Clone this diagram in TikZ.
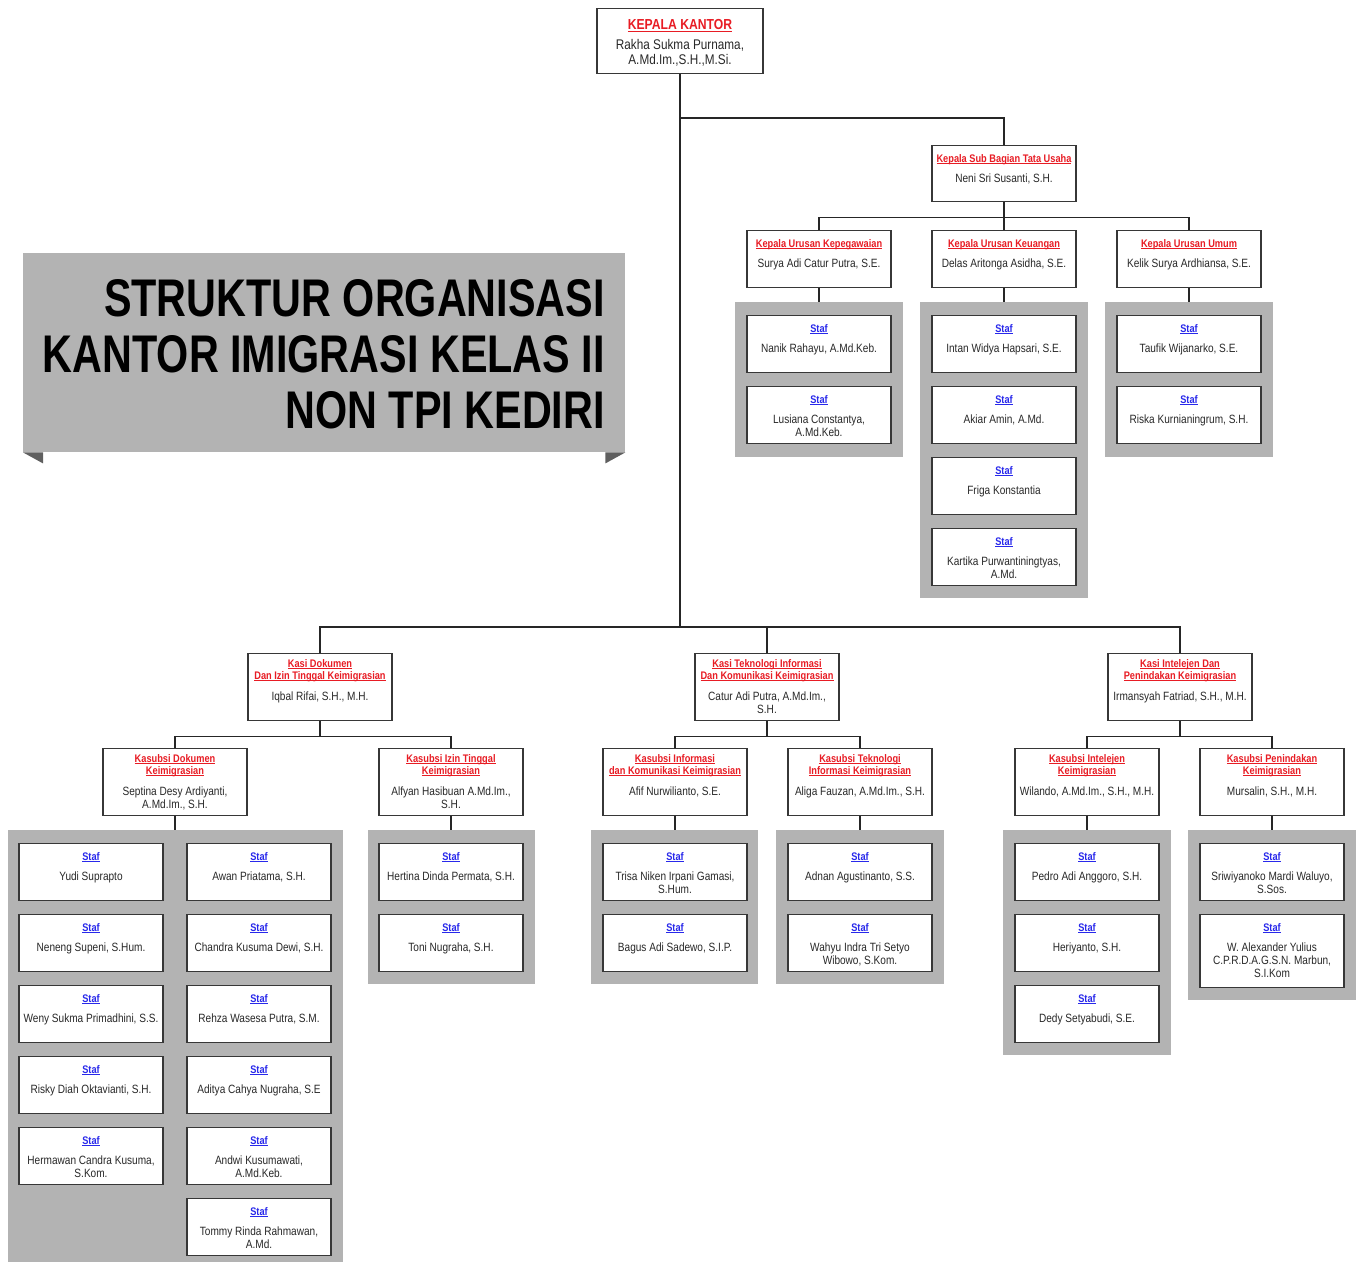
\documentclass[tikz,border=0pt]{standalone}
\usepackage{fontspec}
\setmainfont{Liberation Sans}[FakeStretch=0.84]
\newfontfamily\bannerfont{Liberation Sans}[FakeStretch=0.78]
\definecolor{panelgrey}{RGB}{179,179,179}
\definecolor{folddark}{RGB}{95,95,95}
\definecolor{boxline}{RGB}{55,55,55}
\definecolor{titlered}{RGB}{232,28,36}
\definecolor{stafblue}{RGB}{40,40,235}
\definecolor{namegrey}{RGB}{40,40,40}
% underline close to the baseline
\newcommand\myul[1]{\leavevmode\setbox0\hbox{#1}\rlap{\rule[-1.4pt]{\wd0}{0.6pt}}\box0}
\newcommand\ttl[1]{{\fontsize{11}{13}\selectfont\bfseries\color{titlered}\myul{#1}}}
\newcommand\stf{{\fontsize{11}{13}\selectfont\bfseries\color{stafblue}\myul{Staf}}}
% box with text anchored from the top
\newcommand\offbox[6]{%
  \node[obox, minimum height=#4, anchor=north] (#1) at (#2,#3) {};
  \node[otext, anchor=north] at (#2,#3+#5) {#6};}
\newcommand\staffbox[5]{%
  \node[obox, minimum height=#4, anchor=north] (#1) at (#2,#3) {};
  \node[otext, anchor=north] at (#2,#3+9) {\stf\\[7pt]#5};}
\begin{document}
\begin{tikzpicture}[x=1pt,y=-1pt,
  panel/.style={fill=panelgrey, draw=none, inner sep=0, anchor=north},
  obox/.style={draw=boxline, line width=1.4pt, fill=white, inner sep=0, minimum width=144pt},
  otext/.style={align=center, inner sep=0, font=\fontsize{12}{13}\selectfont, text=namegrey},
  conn/.style={draw=black!85, line width=1.2pt},
  bannertext/.style={inner sep=0, font=\bannerfont\bfseries\fontsize{53}{56}\selectfont, text=black}]
\useasboundingbox (0,0) rectangle (1360,1262);

% ---------- banner ----------
\node[fill=panelgrey, minimum width=602pt, minimum height=199pt, anchor=north west, inner sep=0] (banner) at (23,253) {};
\fill[folddark] (banner.south west) -- ++(20,0) -- ++(0,11) -- cycle;
\fill[folddark] (banner.south east) -- ++(-20,0) -- ++(0,11) -- cycle;
\node[bannertext, anchor=base east] (b1) at (605,316) {STRUKTUR ORGANISASI};
\node[bannertext, anchor=base east] (b2) at (605,372) {KANTOR IMIGRASI KELAS II};
\node[bannertext, anchor=base east] (b3) at (605,428) {NON TPI KEDIRI};

% ---------- panels ----------
\node[panel, minimum width=168pt, minimum height=155pt] (pA) at (819,302) {};
\node[panel, minimum width=168pt, minimum height=296pt] (pB) at (1004,302) {};
\node[panel, minimum width=168pt, minimum height=155pt] (pC) at (1189,302) {};
\node[panel, minimum width=335pt, minimum height=432pt] (pD) at (175.5,830) {};
\node[panel, minimum width=167pt, minimum height=154pt] (pE) at (451.5,830) {};
\node[panel, minimum width=167pt, minimum height=154pt] (pF) at (674.5,830) {};
\node[panel, minimum width=168pt, minimum height=154pt] (pG) at (860,830) {};
\node[panel, minimum width=168pt, minimum height=225pt] (pH) at (1087,830) {};
\node[panel, minimum width=168pt, minimum height=170pt] (pI) at (1272,830) {};

% ---------- top ----------
\node[obox, minimum width=166pt, minimum height=65pt, anchor=north] (kepala) at (680,8) {};
\node[otext, anchor=north, font=\fontsize{14}{15}\selectfont] at (680,8+11.5)
  {{\fontsize{14.5}{15}\selectfont\bfseries\color{titlered}\myul{KEPALA KANTOR}}\\[5pt]Rakha Sukma Purnama,\\A.Md.Im.,S.H.,M.Si.};

\offbox{tu}{1004}{145}{56pt}{9}{\ttl{Kepala Sub Bagian Tata Usaha}\\[7pt]Neni Sri Susanti, S.H.}
\offbox{ur1}{819}{230}{57pt}{9}{\ttl{Kepala Urusan Kepegawaian}\\[7pt]Surya Adi Catur Putra, S.E.}
\offbox{ur2}{1004}{230}{57pt}{9}{\ttl{Kepala Urusan Keuangan}\\[7pt]Delas Aritonga Asidha, S.E.}
\offbox{ur3}{1189}{230}{57pt}{9}{\ttl{Kepala Urusan Umum}\\[7pt]Kelik Surya Ardhiansa, S.E.}

\staffbox{sa1}{819}{315}{57pt}{Nanik Rahayu, A.Md.Keb.}
\staffbox{sa2}{819}{386}{57pt}{Lusiana Constantya,\\A.Md.Keb.}
\staffbox{sb1}{1004}{315}{57pt}{Intan Widya Hapsari, S.E.}
\staffbox{sb2}{1004}{386}{57pt}{Akiar Amin, A.Md.}
\staffbox{sb3}{1004}{457}{57pt}{Friga Konstantia}
\staffbox{sb4}{1004}{528}{57pt}{Kartika Purwantiningtyas,\\A.Md.}
\staffbox{sc1}{1189}{315}{57pt}{Taufik Wijanarko, S.E.}
\staffbox{sc2}{1189}{386}{57pt}{Riska Kurnianingrum, S.H.}

% ---------- kasi ----------
\offbox{kasi1}{320}{653}{67pt}{6}{\ttl{Kasi Dokumen}\\[-1pt]\ttl{Dan Izin Tinggal Keimigrasian}\\[8pt]Iqbal Rifai, S.H., M.H.}
\offbox{kasi2}{767}{653}{67pt}{6}{\ttl{Kasi Teknologi Informasi}\\[-1pt]\ttl{Dan Komunikasi Keimigrasian}\\[8pt]Catur Adi Putra, A.Md.Im.,\\S.H.}
\offbox{kasi3}{1180}{653}{67pt}{6}{\ttl{Kasi Intelejen Dan}\\[-1pt]\ttl{Penindakan Keimigrasian}\\[8pt]Irmansyah Fatriad, S.H., M.H.}

% ---------- kasubsi ----------
\offbox{ks1}{175}{748}{67pt}{6}{\ttl{Kasubsi Dokumen}\\[-1pt]\ttl{Keimigrasian}\\[8pt]Septina Desy Ardiyanti,\\A.Md.Im., S.H.}
\offbox{ks2}{451}{748}{67pt}{6}{\ttl{Kasubsi Izin Tinggal}\\[-1pt]\ttl{Keimigrasian}\\[8pt]Alfyan Hasibuan A.Md.Im.,\\S.H.}
\offbox{ks3}{675}{748}{67pt}{6}{\ttl{Kasubsi Informasi}\\[-1pt]\ttl{dan Komunikasi Keimigrasian}\\[8pt]Afif Nurwilianto, S.E.}
\offbox{ks4}{860}{748}{67pt}{6}{\ttl{Kasubsi Teknologi}\\[-1pt]\ttl{Informasi Keimigrasian}\\[8pt]Aliga Fauzan, A.Md.Im., S.H.}
\offbox{ks5}{1087}{748}{67pt}{6}{\ttl{Kasubsi Intelejen}\\[-1pt]\ttl{Keimigrasian}\\[8pt]Wilando, A.Md.Im., S.H., M.H.}
\offbox{ks6}{1272}{748}{67pt}{6}{\ttl{Kasubsi Penindakan}\\[-1pt]\ttl{Keimigrasian}\\[8pt]Mursalin, S.H., M.H.}

% ---------- staff bottom ----------
\staffbox{d11}{91}{843}{57pt}{Yudi Suprapto}
\staffbox{d12}{91}{914}{57pt}{Neneng Supeni, S.Hum.}
\staffbox{d13}{91}{985}{57pt}{Weny Sukma Primadhini, S.S.}
\staffbox{d14}{91}{1056}{57pt}{Risky Diah Oktavianti, S.H.}
\staffbox{d15}{91}{1127}{57pt}{Hermawan Candra Kusuma,\\S.Kom.}
\staffbox{d21}{259}{843}{57pt}{Awan Priatama, S.H.}
\staffbox{d22}{259}{914}{57pt}{Chandra Kusuma Dewi, S.H.}
\staffbox{d23}{259}{985}{57pt}{Rehza Wasesa Putra, S.M.}
\staffbox{d24}{259}{1056}{57pt}{Aditya Cahya Nugraha, S.E}
\staffbox{d25}{259}{1127}{57pt}{Andwi Kusumawati,\\A.Md.Keb.}
\staffbox{d26}{259}{1198}{57pt}{Tommy Rinda Rahmawan,\\A.Md.}
\staffbox{e1}{451}{843}{57pt}{Hertina Dinda Permata, S.H.}
\staffbox{e2}{451}{914}{57pt}{Toni Nugraha, S.H.}
\staffbox{f1}{675}{843}{57pt}{Trisa Niken Irpani Gamasi,\\S.Hum.}
\staffbox{f2}{675}{914}{57pt}{Bagus Adi Sadewo, S.I.P.}
\staffbox{g1}{860}{843}{57pt}{Adnan Agustinanto, S.S.}
\staffbox{g2}{860}{914}{57pt}{Wahyu Indra Tri Setyo\\Wibowo, S.Kom.}
\staffbox{h1}{1087}{843}{57pt}{Pedro Adi Anggoro, S.H.}
\staffbox{h2}{1087}{914}{57pt}{Heriyanto, S.H.}
\staffbox{h3}{1087}{985}{57pt}{Dedy Setyabudi, S.E.}
\staffbox{i1}{1272}{843}{57pt}{Sriwiyanoko Mardi Waluyo,\\S.Sos.}
\staffbox{i2}{1272}{914}{73pt}{W. Alexander Yulius\\C.P.R.D.A.G.S.N. Marbun,\\S.I.Kom}

% ---------- connectors ----------
\coordinate (j1) at (680,118);
\coordinate (hub) at (680,627);
\draw[conn] (kepala.south) -- (hub);
\draw[conn] (j1) -| (tu.north);
\draw[conn] (tu.south) -- ++(0,15) coordinate (tuj);
\draw[conn] (ur1.north) |- (tuj) -| (ur3.north);
\draw[conn] (tuj) -- (ur2.north);
\draw[conn] (ur1.south) -- (pA.north);
\draw[conn] (ur2.south) -- (pB.north);
\draw[conn] (ur3.south) -- (pC.north);

\draw[conn] (kasi1.north) |- (hub) -| (kasi3.north);
\draw[conn] (kasi2.north) -- (kasi2.north |- hub);

\draw[conn] (kasi1.south) -- ++(0,15) coordinate (k1j);
\draw[conn] (ks1.north) |- (k1j) -| (ks2.north);
\draw[conn] (kasi2.south) -- ++(0,15) coordinate (k2j);
\draw[conn] (ks3.north) |- (k2j) -| (ks4.north);
\draw[conn] (kasi3.south) -- ++(0,15) coordinate (k3j);
\draw[conn] (ks5.north) |- (k3j) -| (ks6.north);

\draw[conn] (ks1.south) -- (ks1.south |- pD.north);
\draw[conn] (ks2.south) -- (ks2.south |- pE.north);
\draw[conn] (ks3.south) -- (ks3.south |- pF.north);
\draw[conn] (ks4.south) -- (ks4.south |- pG.north);
\draw[conn] (ks5.south) -- (ks5.south |- pH.north);
\draw[conn] (ks6.south) -- (ks6.south |- pI.north);
\end{tikzpicture}
\end{document}
